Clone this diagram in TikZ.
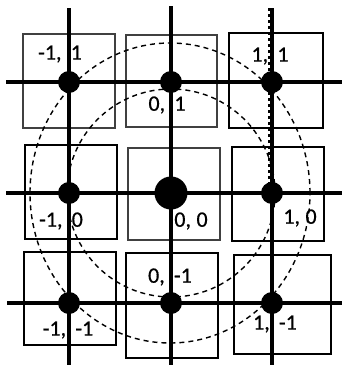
\documentclass[tikz,border=0pt]{standalone}
\usepackage{fontspec}
\setmainfont{Carlito}
\newfontfamily\lblfont{Carlito}[FakeBold=0.6]
\usetikzlibrary{positioning}

\begin{document}
\begin{tikzpicture}[
  x=1pt, y=-1pt,
  cell/.style={draw=black!75, line width=1.3pt},
  cellb/.style={draw=black, line width=2.1pt},
  gridline/.style={line width=3.8pt},
  ring/.style={line width=1.4pt, dash pattern=on 5pt off 4pt},
  edgedash/.style={line width=2.2pt, dash pattern=on 3pt off 3pt},
  dot/.style={circle, fill=black, inner sep=0pt, minimum size=22pt},
  bigdot/.style={circle, fill=black, inner sep=0pt, minimum size=33pt},
  lbl/.style={font=\lblfont\fontsize{22}{25}\selectfont, inner sep=0pt}
]
  \useasboundingbox (0,0) rectangle (342,365);

  % Punkte des Gitters
  \coordinate (pnw) at (69,82);
  \coordinate (pn)  at (171,82);
  \coordinate (pne) at (272,82);
  \coordinate (pw)  at (69,193);
  \coordinate (pc)  at (171,193);
  \coordinate (pe)  at (272,193);
  \coordinate (psw) at (69,303);
  \coordinate (ps)  at (171,303);
  \coordinate (pse) at (272,303);

  % Enden der Linien
  \coordinate (t1) at (69,8);   \coordinate (b1) at (69,365);
  \coordinate (t2) at (171,6);  \coordinate (b2) at (171,365);
  \coordinate (t3) at (272,8);  \coordinate (b3) at (272,365);
  \coordinate (l1) at (6,82);   \coordinate (r1) at (342,82);
  \coordinate (l2) at (6,193);  \coordinate (r2) at (342,193);
  \coordinate (l3) at (7,303);  \coordinate (r3) at (342,303);

  % Zellen
  \draw[cell]  (23,34)   rectangle (115,128);
  \draw[cell]  (126,35)  rectangle (217,127);
  \draw[cellb] (229,33)  rectangle (323,128);
  \draw[cellb] (25,145)  rectangle (117,239);
  \draw[cell]  (128,148) rectangle (220,240);
  \draw[cellb] (232,147) rectangle (324,241);
  \draw[cellb] (24,252)  rectangle (116,345);
  \draw[cellb] (126,253) rectangle (218,358);
  \draw[cellb] (234,255) rectangle (331,354);

  % Kreise
  \draw[ring] (pc) circle[radius=104pt];
  \draw[ring] (170,193) ellipse[x radius=140pt, y radius=150pt];

  % Gitterlinien
  \draw[gridline] (l1) -- (pnw) -- (pn) -- (pne) -- (r1);
  \draw[gridline] (l2) -- (pw) -- (pc) -- (pe) -- (r2);
  \draw[gridline] (l3) -- (psw) -- (ps) -- (pse) -- (r3);
  \draw[gridline, line width=4.2pt] (t1) -- (pnw) -- (pw) -- (psw) -- (b1);
  \draw[gridline, line width=4.2pt] (t2) -- (pn) -- (pc) -- (ps) -- (b2);
  \draw[gridline, line width=4.2pt] (t3) -- (pne) -- (pe) -- (pse) -- (b3);
  \draw[edgedash] ([xshift=-3pt]t3) -- ([xshift=-3pt]pe);

  % Knoten
  \node[dot]    (nw) at (pnw) {};
  \node[dot]    (n)  at (pn)  {};
  \node[dot]    (ne) at (pne) {};
  \node[dot]    (w)  at (pw)  {};
  \node[bigdot] (c)  at (pc)  {};
  \node[dot]    (e)  at (pe)  {};
  \node[dot]    (sw) at (psw) {};
  \node[dot]    (s)  at (ps)  {};
  \node[dot]    (se) at (pse) {};

  % Beschriftungen
  \node[lbl] (lnw) at (60,54)   {-1,\hspace{0.42em}1};
  \node[lbl] (ln)  at (167,105) {0,\hspace{0.42em}1};
  \node[lbl] (lne) at (270,56)  {1,\hspace{0.42em}1};
  \node[lbl] (lw)  at (61,221)  {-1,\hspace{0.42em}0};
  \node[lbl] (lc)  at (191,221) {0,\hspace{0.25em}0};
  \node[lbl] (le)  at (300,218) {1,\hspace{0.25em}0};
  \node[lbl] (lsw) at (68,330)  {-1,\hspace{0.42em}-1};
  \node[lbl] (ls)  at (170,277) {0,\hspace{0.42em}-1};
  \node[lbl] (lse) at (275,324) {1,\hspace{0.42em}-1};
\end{tikzpicture}
\end{document}
